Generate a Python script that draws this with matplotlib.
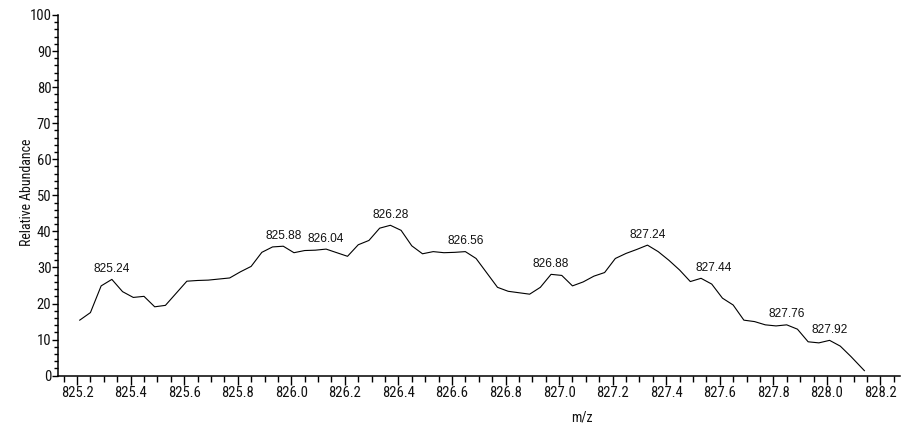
import matplotlib
matplotlib.use("Agg")
import matplotlib.pyplot as plt
from matplotlib.ticker import MultipleLocator, FormatStrFormatter

# ---- data ----
mz = [825.21, 825.25, 825.29, 825.33, 825.37, 825.41, 825.45, 825.49, 825.53,
      825.61, 825.65, 825.69, 825.73, 825.77, 825.81, 825.85, 825.89, 825.93,
      825.97, 826.01, 826.05, 826.09, 826.13, 826.21, 826.25, 826.29, 826.33,
      826.37, 826.41, 826.45, 826.49, 826.53, 826.57, 826.61, 826.65, 826.69,
      826.77, 826.81, 826.85, 826.89, 826.93, 826.97, 827.01, 827.05, 827.09,
      827.13, 827.17, 827.21, 827.25, 827.29, 827.33, 827.37, 827.41, 827.45,
      827.49, 827.53, 827.57, 827.61, 827.65, 827.69, 827.73, 827.77, 827.81,
      827.85, 827.89, 827.93, 827.97, 828.01, 828.05, 828.09, 828.14]
abundance = [15.4, 17.5, 24.9, 26.7, 23.3, 21.7, 22.0, 19.1, 19.5,
             26.2, 26.4, 26.5, 26.8, 27.1, 28.8, 30.3, 34.2, 35.7,
             35.9, 34.1, 34.7, 34.8, 35.1, 33.1, 36.3, 37.5, 40.9,
             41.7, 40.3, 36.0, 33.8, 34.4, 34.1, 34.2, 34.4, 32.5,
             24.5, 23.4, 23.0, 22.6, 24.5, 28.1, 27.8, 24.9, 26.0,
             27.6, 28.6, 32.5, 33.9, 35.0, 36.2, 34.4, 32.0, 29.3,
             26.1, 27.0, 25.4, 21.5, 19.6, 15.4, 15.0, 14.1, 13.8,
             14.1, 12.9, 9.4, 9.1, 9.8, 8.2, 5.3, 1.4]

peak_labels = ["825.24", "825.88", "826.04", "826.28", "826.56",
               "826.88", "827.24", "827.44", "827.76", "827.92"]
peak_mz = [825.33, 825.97, 826.13, 826.37, 826.65,
           826.97, 827.33, 827.53, 827.85, 828.01]
peak_abund = [26.7, 35.9, 35.1, 41.7, 34.4,
              28.1, 36.2, 27.0, 14.1, 9.8]
peak_shift_pt = [0, 0, 0, 0, 0, 0, 0, 9.4, 0, 0]

x_label = "m/z"
y_label = "Relative Abundance"

# ---- figure ----
W, H = 903, 425
fig = plt.figure(figsize=(W / 100, H / 100), dpi=100)
ax = fig.add_axes([58.3 / W, (H - 375.7) / H, (900 - 58.3) / W, (375.7 - 15) / H])

narrow = ["Roboto Condensed", "Liberation Sans", "DejaVu Sans"]
regular = ["Liberation Sans", "DejaVu Sans"]

ax.plot(mz, abundance, color="black", linewidth=0.8)

ax.set_xlim(825.13, 828.273)
ax.set_ylim(0, 100)

for s in ("top", "right"):
    ax.spines[s].set_visible(False)
for s in ("left", "bottom"):
    ax.spines[s].set_linewidth(1.1)

ax.xaxis.set_major_locator(MultipleLocator(0.2))
ax.xaxis.set_minor_locator(MultipleLocator(0.05))
ax.xaxis.set_major_formatter(FormatStrFormatter("%.1f"))
ax.yaxis.set_major_locator(MultipleLocator(10))
ax.yaxis.set_minor_locator(MultipleLocator(2))

ax.tick_params(axis="x", which="major", length=6.5, width=1.0, pad=0.8)
ax.tick_params(axis="x", which="minor", length=4.0, width=1.0)
ax.tick_params(axis="y", which="major", length=4.3, width=1.0, pad=0.6)
ax.tick_params(axis="y", which="minor", length=2.6, width=1.0)

for lab in ax.get_xticklabels() + ax.get_yticklabels():
    lab.set_fontfamily(narrow)
    lab.set_fontsize(10.5)
    lab.set_color("#111111")

for txt, x, y, dx in zip(peak_labels, peak_mz, peak_abund, peak_shift_pt):
    ax.annotate(txt, xy=(x, y), xytext=(dx, 3.2), textcoords="offset points",
                ha="center", va="bottom", fontsize=8.6, family=regular,
                color="#111111")

fig.text(582 / W, 1 - 417 / H, x_label, ha="center", va="center",
         fontsize=10, family=narrow, color="#111111")
fig.text(27 / W, 1 - 192.5 / H, y_label, ha="center", va="center",
         rotation=90, fontsize=10, family=narrow, color="#111111")

fig.savefig("out.png", dpi=100)
